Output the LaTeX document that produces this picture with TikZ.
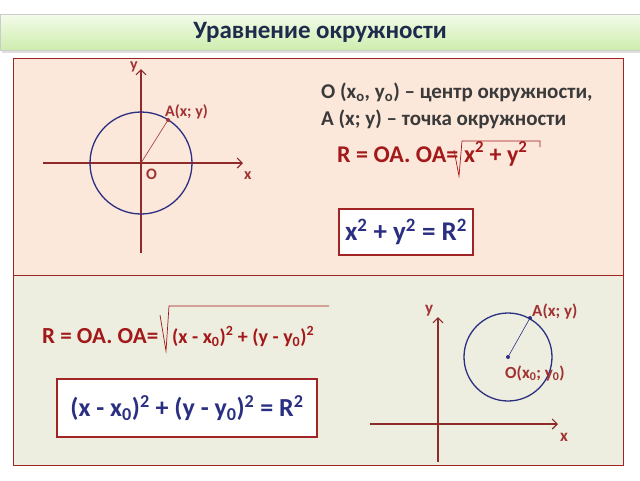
\documentclass[tikz,border=0pt]{standalone}
\usepackage{fontspec}
\setmainfont{Carlito}
\usetikzlibrary{arrows.meta}

\definecolor{peach}{HTML}{FCE7DB}
\definecolor{sage}{HTML}{EDEEE0}
\definecolor{frame}{HTML}{A02424}
\definecolor{axis}{HTML}{8E2A2A}
\definecolor{ring}{HTML}{2B2F82}
\definecolor{label}{HTML}{A03232}
\definecolor{formula}{HTML}{A31818}
\definecolor{navy}{HTML}{1E2B4D}
\definecolor{bodytext}{HTML}{3A3A3A}
\definecolor{bannertop}{HTML}{F3FBEA}
\definecolor{bannerbot}{HTML}{CFEDAE}

\tikzset{
  panel/.style={draw=frame, line width=1pt, inner sep=0pt},
  axisline/.style={draw=axis, line width=1.1pt, -{Straight Barb[length=5pt,width=10pt]}},
  ringline/.style={draw=ring, line width=1.3pt},
  radius line/.style={draw=label, line width=0.6pt},
  dot/.style={circle, inner sep=0pt, minimum size=4pt},
  lbl/.style={text=label, font=\fontsize{17}{19}\bfseries, inner sep=0pt, anchor=base west},
  formulatext/.style={text=formula, inner sep=0pt, anchor=base west},
  eqbox/.style={draw=frame, line width=1.2pt, fill=white, text=ring, inner sep=0pt}
}

\begin{document}
\begin{tikzpicture}[x=1pt, y=-1pt]
\useasboundingbox (0,0) rectangle (640,480);
\fill[white] (0,0) rectangle (640,480);

\fill[gray!25] (2,17) rectangle (642,53);
\node[draw=gray!40, top color=bannertop, bottom color=bannerbot, minimum width=640pt, minimum height=36pt, text=navy, font=\fontsize{25}{28}\bfseries] (title) at (320,32) {Уравнение окружности};

\node[panel, fill=peach, minimum width=610pt, minimum height=217pt] (upper) at (318,166.5) {};
\node[panel, fill=sage, minimum width=610pt, minimum height=190pt] (lower) at (318,370) {};

% first circle
\begin{scope}
  \coordinate (xl1) at ( 43,163);
  \coordinate (xr1) at (243,163);
  \coordinate (yb1) at (141,253);
  \coordinate (yt1) at (141, 69);
  \coordinate (O1)  at (141,163);
  \draw[axisline] (xl1) -- (xr1);
  \draw[axisline] (yb1) -- (yt1);
  \draw[ringline] (O1) circle[radius=51pt];
  \node[dot, fill=label] (A1) at (168,120) {};
  \draw[radius line] (O1) -- (A1);
  \node[lbl, font=\fontsize{16}{18}\bfseries] (ylab1) at (130, 69) {y};
  \node[lbl, font=\fontsize{16}{18}\bfseries] (Alab1) at (165,116) {A(x; y)};
  \node[lbl, font=\fontsize{16}{18}\bfseries] (Olab1) at (146,179) {O};
  \node[lbl, font=\fontsize{16}{18}\bfseries] (xlab1) at (244,179) {x};
\end{scope}

\node[text=bodytext, font=\fontsize{21}{24}\bfseries, anchor=base west, inner sep=0pt] (def1) at (321,98)
  {O (x\textsubscript{o}, y\textsubscript{o}) – центр окружности,};
\node[text=bodytext, font=\fontsize{21}{24}\bfseries, anchor=base west, inner sep=0pt] (def2) at (321,125)
  {A (x; y) – точка окружности};

\node[formulatext, font=\fontsize{24}{28}\bfseries] (oa1) at (337,162) {R = OA. OA=};
\node[formulatext, font=\fontsize{24}{28}\bfseries] (rad1) at (464,162)
  {x\textsuperscript{2} + y\textsuperscript{2}};
\draw[formula, line width=0.7pt] (454,150) -- (459,176) -- (462,141) -- (540,141) -- (540,147);

\node[eqbox, minimum width=134pt, minimum height=46pt, font=\fontsize{27}{30}\bfseries] (eq1) at (406,232)
  {x\textsuperscript{2} + y\textsuperscript{2} = R\textsuperscript{2}};

% second circle
\begin{scope}
  \coordinate (xl2) at (370,424);
  \coordinate (xr2) at (558,424);
  \coordinate (yb2) at (438,462);
  \coordinate (yt2) at (438,317);
  \coordinate (O2)  at (508,357);
  \draw[axisline] (xl2) -- (xr2);
  \draw[axisline] (yb2) -- (yt2);
  \draw[ringline] (O2) circle[radius=44pt];
  \node[dot, fill=ring] (C2) at (O2) {};
  \node[dot, fill=ring] (A2) at (530,318) {};
  \draw[radius line, draw=ring] (C2) -- (A2);
  \node[lbl] (ylab2) at (425,313) {y};
  \node[lbl] (Alab2) at (532,316) {A(x; y)};
  \node[lbl] (Olab2) at (505,378) {O(x\textsubscript{0}; y\textsubscript{0})};
  \node[lbl] (xlab2) at (560,441) {x};
\end{scope}

\node[formulatext, font=\fontsize{23}{26}\bfseries] (oa2) at (42,343) {R = OA. OA=};
\node[formulatext, font=\fontsize{20}{24}\bfseries] (rad2) at (172,343)
  {(x - x\textsubscript{0})\textsuperscript{2} + (y - y\textsubscript{0})\textsuperscript{2}};
\draw[formula, line width=0.7pt] (160,315) -- (166,351) -- (169,306) -- (329,306);

\node[eqbox, minimum width=260pt, minimum height=58pt, font=\fontsize{26}{30}\bfseries] (eq2) at (187,408)
  {(x - x\textsubscript{0})\textsuperscript{2} + (y - y\textsubscript{0})\textsuperscript{2} = R\textsuperscript{2}};

\end{tikzpicture}
\end{document}
